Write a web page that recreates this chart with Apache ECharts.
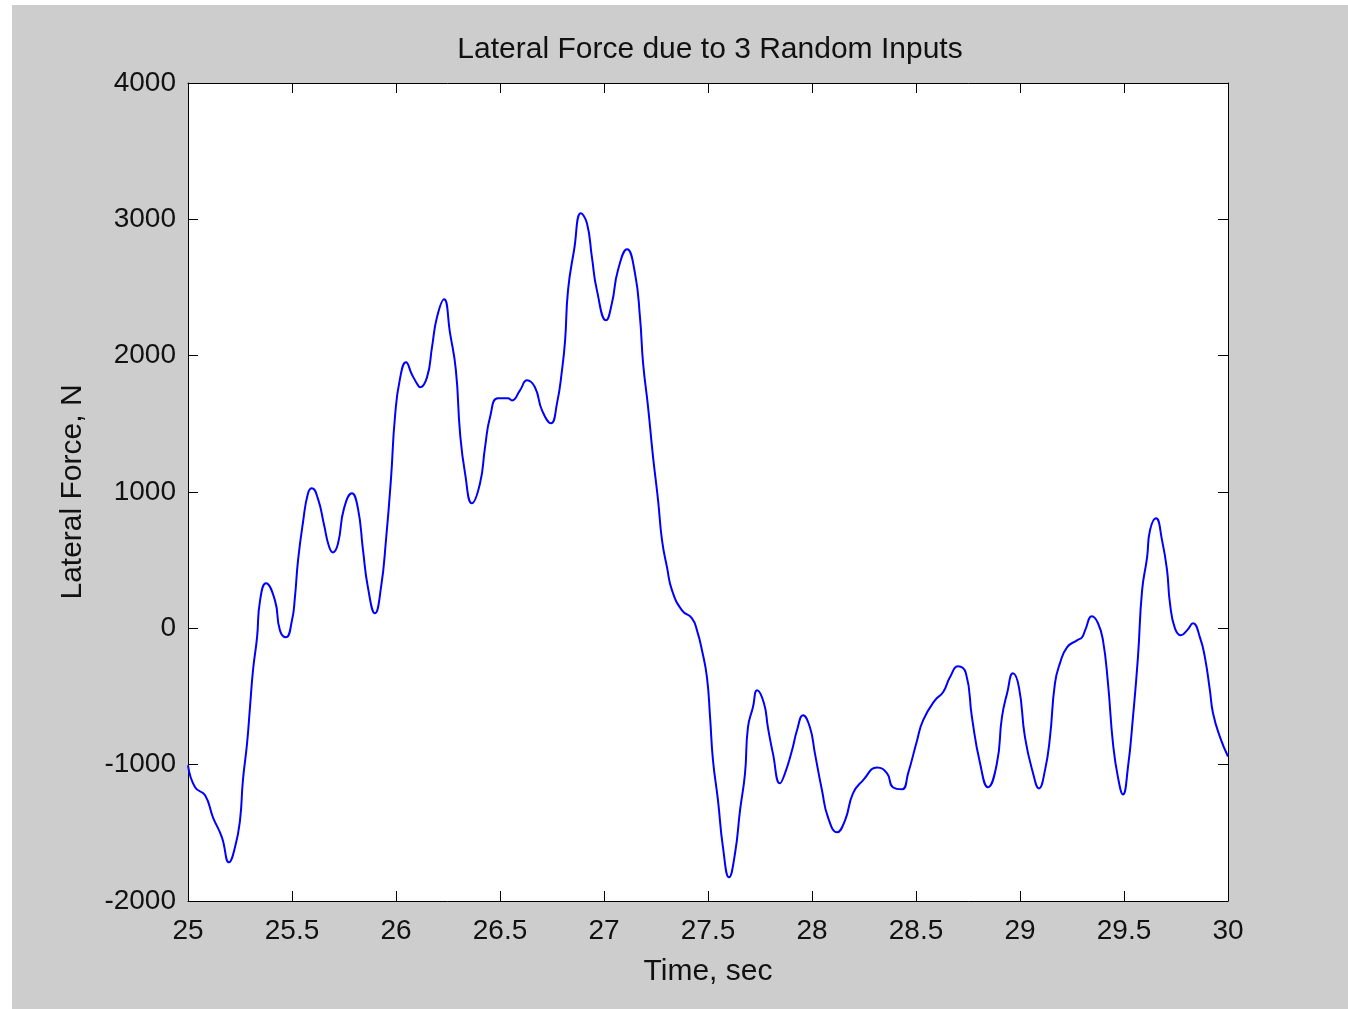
<!DOCTYPE html>
<html>
<head>
<meta charset="utf-8">
<script src="https://cdn.jsdelivr.net/npm/echarts@6/dist/echarts.min.js"></script>
<style>
  html, body { margin: 0; padding: 0; background: #ffffff; }
  #chart { position: absolute; left: 12px; top: 5px; width: 1336px; height: 1004px; background: #cdcdcd; }
</style>
</head>
<body>
<div id="chart"></div>
<script>
// time samples (s) and lateral force (N)
const times = [
  25.000, 25.034, 25.082, 25.120, 25.163, 25.197, 25.226, 25.250, 25.264, 25.284,
  25.298, 25.313, 25.332, 25.346, 25.375, 25.418, 25.442, 25.471, 25.500, 25.514,
  25.529, 25.553, 25.577, 25.596, 25.625, 25.654, 25.678, 25.697, 25.721, 25.750,
  25.788, 25.817, 25.841, 25.865, 25.899, 25.928, 25.952, 25.976, 25.995, 26.019,
  26.048, 26.077, 26.106, 26.115, 26.149, 26.173, 26.197, 26.231, 26.260, 26.288,
  26.308, 26.332, 26.365, 26.404, 26.428, 26.452, 26.490, 26.538, 26.558, 26.596,
  26.630, 26.668, 26.702, 26.745, 26.774, 26.798, 26.813, 26.827, 26.856, 26.889,
  26.918, 26.942, 26.966, 27.010, 27.038, 27.067, 27.111, 27.149, 27.173, 27.188,
  27.212, 27.236, 27.260, 27.279, 27.303, 27.327, 27.375, 27.423, 27.447, 27.471,
  27.495, 27.510, 27.524, 27.548, 27.572, 27.601, 27.630, 27.654, 27.678, 27.692,
  27.716, 27.736, 27.769, 27.788, 27.812, 27.846, 27.870, 27.904, 27.928, 27.957,
  27.990, 28.014, 28.048, 28.077, 28.120, 28.159, 28.197, 28.245, 28.313, 28.361,
  28.389, 28.433, 28.462, 28.505, 28.534, 28.591, 28.630, 28.663, 28.702, 28.740,
  28.769, 28.808, 28.846, 28.889, 28.913, 28.938, 28.966, 28.995, 29.024, 29.063,
  29.091, 29.120, 29.144, 29.168, 29.192, 29.226, 29.274, 29.298, 29.313, 29.346,
  29.375, 29.399, 29.423, 29.447, 29.471, 29.495, 29.519, 29.543, 29.567, 29.587,
  29.611, 29.625, 29.654, 29.683, 29.707, 29.721, 29.745, 29.774, 29.803, 29.832,
  29.865, 29.889, 29.913, 29.928, 29.962, 30.000
]
const force = [
  -1005, -1166, -1225, -1386, -1533, -1716, -1606, -1408, -1115, -843,
  -579, -300, -66, 200, 330, 205, -15, -66, 59, 227,
  499, 780, 990, 1027, 950, 760, 600, 557, 620, 880,
  990, 880, 580, 300, 110, 300, 650, 1100, 1550, 1830,
  1951, 1860, 1782, 1768, 1841, 2061, 2281, 2413, 2164, 1892,
  1430, 1137, 917, 1064, 1328, 1548, 1687, 1687, 1672, 1746,
  1819, 1768, 1599, 1504, 1650, 1892, 2112, 2479, 2773, 3044,
  2971, 2721, 2479, 2259, 2384, 2626, 2780, 2604, 2281, 1944,
  1621, 1254, 939, 645, 447, 279, 132, 73, -15, -161,
  -359, -653, -968, -1262, -1606, -1826, -1650, -1335, -1064, -726,
  -579, -455, -550, -726, -917, -1137, -1064, -895, -748, -638,
  -726, -917, -1188, -1386, -1496, -1408, -1210, -1115, -1020, -1064,
  -1166, -1181, -1064, -822, -675, -528, -469, -359, -279, -330,
  -653, -990, -1166, -990, -653, -477, -330, -433, -800, -1064,
  -1174, -1042, -800, -403, -257, -139, -88, -66, -15, 88,
  37, -88, -403, -844, -1093, -1218, -1020, -653, -213, 279,
  521, 719, 807, 645, 425, 183, 0, -51, -15, 37,
  -66, -213, -455, -623, -800, -940
]

const xTicks = { min: 25, max: 30, step: 0.5 }
const yTicks = { min: -2000, max: 4000, step: 1000 }

const chart = echarts.init(document.getElementById('chart'), null, { renderer: 'canvas' })

const points = times.map((t, i) => [t, force[i]])

const fontFamily = '"Liberation Sans", Arial, sans-serif'
const boxLine = { show: true, onZero: false, lineStyle: { color: '#000', width: 1 } }
const inTick = { show: true, inside: true, length: 10, lineStyle: { color: '#000', width: 1 } }

const option = {
  animation: false,
  backgroundColor: '#cdcdcd',
  title: {
    text: 'Lateral Force due to 3 Random Inputs',
    left: 693,
    top: 25,
    textAlign: 'center',
    textStyle: { fontFamily, fontSize: 30, fontWeight: 'normal', color: '#111' }
  },
  grid: { left: 176, top: 78, width: 1040, height: 818, show: true, backgroundColor: '#fff', borderWidth: 0 },
  xAxis: [{
    type: 'value', min: xTicks.min, max: xTicks.max, interval: xTicks.step,
    position: 'bottom',
    name: 'Time, sec', nameLocation: 'middle', nameGap: 56,
    nameTextStyle: { fontFamily, fontSize: 30, color: '#111' },
    axisLine: boxLine, axisTick: inTick,
    axisLabel: { fontFamily, fontSize: 28, color: '#111', margin: 16, formatter: v => String(v) },
    splitLine: { show: false }
  }, {
    type: 'value', min: xTicks.min, max: xTicks.max, interval: xTicks.step,
    position: 'top',
    axisLine: boxLine, axisTick: inTick,
    axisLabel: { show: false }, splitLine: { show: false }
  }],
  yAxis: [{
    type: 'value', min: yTicks.min, max: yTicks.max, interval: yTicks.step,
    position: 'left',
    name: 'Lateral Force, N', nameLocation: 'middle', nameGap: 100,
    nameTextStyle: { fontFamily, fontSize: 30, color: '#111' },
    axisLine: boxLine, axisTick: inTick,
    axisLabel: { fontFamily, fontSize: 28, color: '#111', margin: 12, formatter: v => String(v) },
    splitLine: { show: false }
  }, {
    type: 'value', min: yTicks.min, max: yTicks.max, interval: yTicks.step,
    position: 'right',
    axisLine: boxLine, axisTick: inTick,
    axisLabel: { show: false }, splitLine: { show: false }
  }],
  series: [{
    type: 'line',
    xAxisIndex: 0,
    yAxisIndex: 0,
    data: points,
    showSymbol: false,
    smooth: 0.5,
    lineStyle: { color: '#0000ff', width: 2 },
    itemStyle: { color: '#0000ff' }
  }]
}

chart.setOption(option)
</script>
</body>
</html>
